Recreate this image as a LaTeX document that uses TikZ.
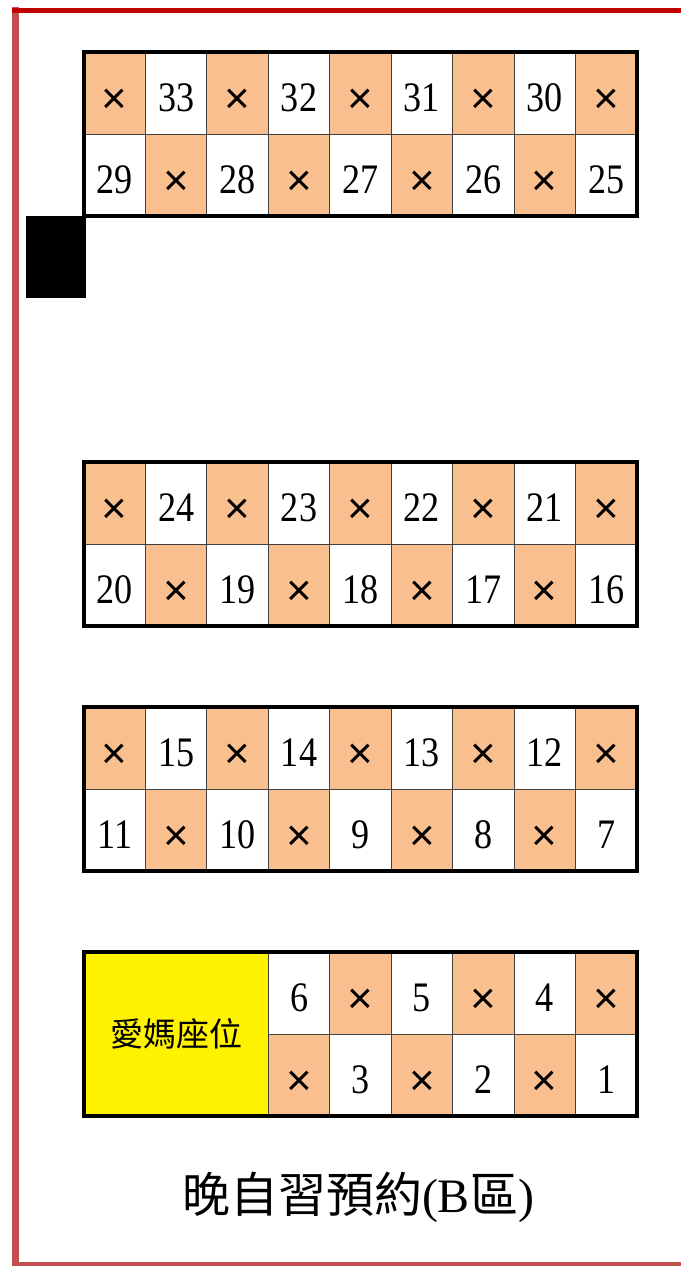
\documentclass[tikz,border=0pt]{standalone}
\usepackage{fontspec}
\setmainfont{Liberation Serif}
\newfontfamily\cjk{Noto Sans CJK TC}
\newfontfamily\xsans{Liberation Sans}
\definecolor{seatorange}{HTML}{FABF8F}
\definecolor{framered}{HTML}{C00000}
\definecolor{framerose}{HTML}{C0504D}
\tikzset{
  seat/.style={draw=black!75,line width=1pt,minimum width=61.44pt,minimum height=82pt,inner sep=0pt,outer sep=0pt,text depth=0pt},
  block/.style={draw=black,line width=3.5pt},
  door/.style={fill=black,minimum width=60pt,minimum height=82pt,inner sep=0pt},
  mama/.style={draw=black!75,line width=1pt,fill=yellow,minimum width=184.3pt,minimum height=164pt,inner sep=0pt,outer sep=0pt,
    font=\cjk\fontsize{33}{36}\selectfont}
}
% one row of seats: #1 block, #2 row (1 top, 2 bottom), #3 y of centres, #4 first column, #5 labels
\newcommand\seatrow[5]{%
  \foreach \lab [count=\col from #4] in {#5} {
    \ifodd\numexpr\col+#2\relax
      \def\seatfill{white}\def\seatfont{\fontsize{42}{44}\selectfont}\def\seatx{0.86}\def\seatht{36pt}%
    \else
      \def\seatfill{seatorange}\def\seatfont{\xsans\fontsize{44}{44}\selectfont}\def\seatx{1}\def\seatht{40pt}%
    \fi
    \node[seat,fill=\seatfill,font=\seatfont,text height=\seatht] (b#1-#2-\col) at ({84+(\col-0.5)*61.44},#3)
      {\scalebox{\seatx}[1]{\lab}};
  }}

\begin{document}
\begin{tikzpicture}[x=1pt,y=-1pt]
  \useasboundingbox (0,0) rectangle (681,1266);

  % seat blocks
  \seatrow{1}{1}{93}{1}{×,33,×,32,×,31,×,30,×}
  \seatrow{1}{2}{175}{1}{29,×,28,×,27,×,26,×,25}
  \seatrow{2}{1}{503}{1}{×,24,×,23,×,22,×,21,×}
  \seatrow{2}{2}{585}{1}{20,×,19,×,18,×,17,×,16}
  \seatrow{3}{1}{748}{1}{×,15,×,14,×,13,×,12,×}
  \seatrow{3}{2}{830}{1}{11,×,10,×,9,×,8,×,7}
  \seatrow{4}{1}{993}{4}{6,×,5,×,4,×}
  \seatrow{4}{2}{1075}{4}{×,3,×,2,×,1}
  \node[mama,anchor=north east] (mama) at (b4-1-4.north west) {愛媽座位};

  \draw[block] (b1-1-1.north west) rectangle (b1-2-9.south east);
  \draw[block] (b2-1-1.north west) rectangle (b2-2-9.south east);
  \draw[block] (b3-1-1.north west) rectangle (b3-2-9.south east);
  \draw[block] (mama.north west) rectangle (b4-2-9.south east);

  \node[door,anchor=north east] (door) at ([xshift=2pt]b1-2-1.south west) {};

  \node[font=\fontsize{48}{50}\selectfont] (title) at (358,1197) {{\cjk 晚自習預約}(B{\cjk 區})};

  % frame
  \draw[framerose,line width=7pt] (15.5,7) -- (15.5,1266);
  \draw[framered,line width=5pt] (12,10) -- (681,10);
  \draw[framerose,line width=5pt] (12,1264) -- (681,1264);
\end{tikzpicture}
\end{document}
